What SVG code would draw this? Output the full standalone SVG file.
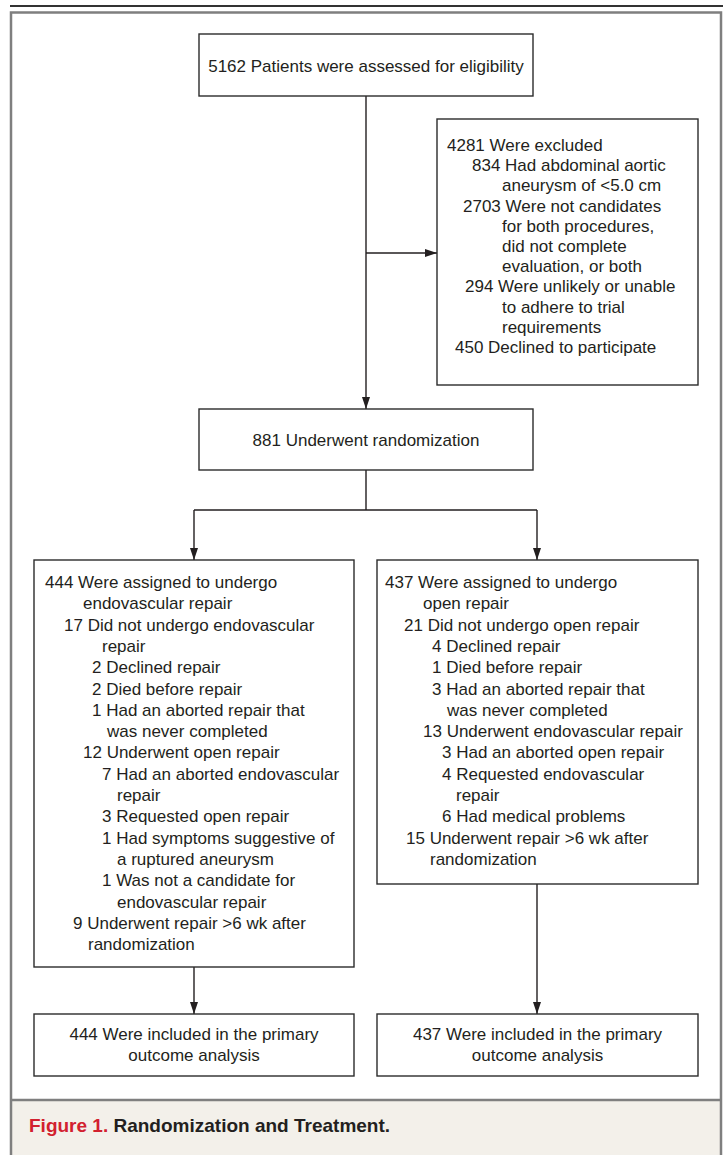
<svg xmlns="http://www.w3.org/2000/svg" width="723" height="1155" viewBox="0 0 723 1155">
<style>
text{font-family:"Liberation Sans",Arial,sans-serif;font-size:17px;fill:#231f20}
.box{fill:#fff;stroke:#2b2b2b;stroke-width:1.4}
.c{text-anchor:middle}
.con{fill:none;stroke:#231f20;stroke-width:1.4}
.cap{font-weight:bold;font-size:19px}
</style>
<defs>
<marker id="ah" markerUnits="userSpaceOnUse" markerWidth="13" markerHeight="9" refX="12" refY="4" orient="auto">
<path d="M0,0 L12,4 L0,8 z" fill="#231f20"/>
</marker>
</defs>
<rect x="0" y="0" width="723" height="1155" fill="#fff"/>
<line x1="10" y1="6" x2="723" y2="6" stroke="#333" stroke-width="2"/>
<rect x="11" y="1100" width="710" height="60" fill="#f3f0ea"/>
<rect x="11" y="12.5" width="710" height="1150" fill="none" stroke="#7f7f7f" stroke-width="2.5"/>
<line x1="11" y1="1100" x2="721" y2="1100" stroke="#7f7f7f" stroke-width="2.5"/>

<g id="connectors">
<line class="con" x1="366" y1="96" x2="366" y2="409" marker-end="url(#ah)"/>
<line class="con" x1="366" y1="253" x2="437" y2="253" marker-end="url(#ah)"/>
<path class="con" d="M366,470 V510 M194,510 H537"/>
<line class="con" x1="194" y1="510" x2="194" y2="560" marker-end="url(#ah)"/>
<line class="con" x1="537" y1="510" x2="537" y2="560" marker-end="url(#ah)"/>
<line class="con" x1="194" y1="967" x2="194" y2="1014" marker-end="url(#ah)"/>
<line class="con" x1="537" y1="884" x2="537" y2="1014" marker-end="url(#ah)"/>
</g>

<g id="assessed">
<rect class="box" x="199" y="34" width="334" height="62"/>
<text class="c" x="366" y="72">5162 Patients were assessed for eligibility</text>
</g>

<g id="excluded">
<rect class="box" x="437" y="119" width="261" height="266"/>
<text x="447" y="151">4281 Were excluded</text>
<text x="472" y="171.2">834 Had abdominal aortic</text>
<text x="502" y="191.4">aneurysm of &lt;5.0 cm</text>
<text x="463" y="211.6">2703 Were not candidates</text>
<text x="502" y="231.8">for both procedures,</text>
<text x="502" y="252">did not complete</text>
<text x="502" y="272.2">evaluation, or both</text>
<text x="465" y="292.4">294 Were unlikely or unable</text>
<text x="502" y="312.6">to adhere to trial</text>
<text x="502" y="332.8">requirements</text>
<text x="455" y="353">450 Declined to participate</text>
</g>

<g id="randomized">
<rect class="box" x="199" y="409" width="334" height="61"/>
<text class="c" x="366" y="446">881 Underwent randomization</text>
</g>

<g id="endovascular">
<rect class="box" x="34" y="560" width="320" height="407"/>
<text x="45" y="588">444 Were assigned to undergo</text>
<text x="83" y="609.3">endovascular repair</text>
<text x="64" y="630.6">17 Did not undergo endovascular</text>
<text x="102" y="651.9">repair</text>
<text x="92" y="673.2">2 Declined repair</text>
<text x="92" y="694.5">2 Died before repair</text>
<text x="92" y="715.8">1 Had an aborted repair that</text>
<text x="107" y="737.1">was never completed</text>
<text x="83" y="758.4">12 Underwent open repair</text>
<text x="102" y="779.7">7 Had an aborted endovascular</text>
<text x="117" y="801">repair</text>
<text x="102" y="822.3">3 Requested open repair</text>
<text x="102" y="843.6">1 Had symptoms suggestive of</text>
<text x="117" y="864.9">a ruptured aneurysm</text>
<text x="102" y="886.2">1 Was not a candidate for</text>
<text x="117" y="907.5">endovascular repair</text>
<text x="73" y="928.8">9 Underwent repair &gt;6 wk after</text>
<text x="88" y="950.1">randomization</text>
</g>

<g id="open">
<rect class="box" x="377" y="560" width="321" height="324"/>
<text x="385" y="588">437 Were assigned to undergo</text>
<text x="423" y="609.3">open repair</text>
<text x="404" y="630.6">21 Did not undergo open repair</text>
<text x="432" y="651.9">4 Declined repair</text>
<text x="432" y="673.2">1 Died before repair</text>
<text x="432" y="694.5">3 Had an aborted repair that</text>
<text x="447" y="715.8">was never completed</text>
<text x="423" y="737.1">13 Underwent endovascular repair</text>
<text x="442" y="758.4">3 Had an aborted open repair</text>
<text x="442" y="779.7">4 Requested endovascular</text>
<text x="456" y="801">repair</text>
<text x="442" y="822.3">6 Had medical problems</text>
<text x="406" y="843.6">15 Underwent repair &gt;6 wk after</text>
<text x="430" y="864.9">randomization</text>
</g>

<g id="endo-analysis">
<rect class="box" x="34" y="1014" width="320" height="62"/>
<text class="c" x="194" y="1040">444 Were included in the primary</text>
<text class="c" x="194" y="1061">outcome analysis</text>
</g>

<g id="open-analysis">
<rect class="box" x="377" y="1014" width="321" height="62"/>
<text class="c" x="537.5" y="1040">437 Were included in the primary</text>
<text class="c" x="537.5" y="1061">outcome analysis</text>
</g>

<text class="cap" x="29" y="1132"><tspan fill="#d2202f">Figure 1.</tspan> Randomization and Treatment.</text>
</svg>
